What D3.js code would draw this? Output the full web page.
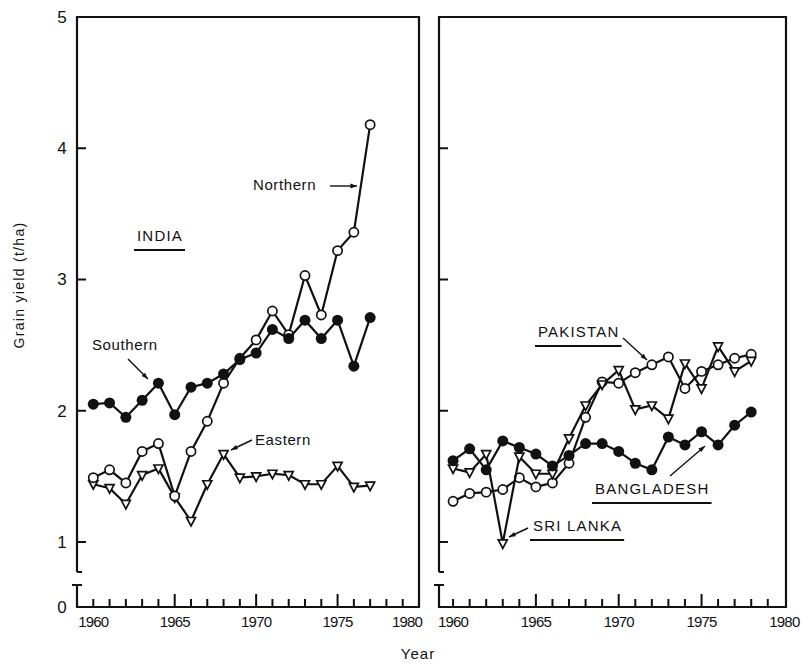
<!DOCTYPE html>
<html>
<head>
<meta charset="utf-8">
<script src="https://cdn.jsdelivr.net/npm/d3@7"></script>
<style>
  body { margin: 0; background: #fff; }
  svg text { font-family: "Liberation Sans", "DejaVu Sans", sans-serif; fill: #111; }
</style>
</head>
<body>
<svg id="chart" width="808" height="666"></svg>
<script>
// years and values
const indiaYears = [1960,1961,1962,1963,1964,1965,1966,1967,1968,1969,1970,1971,1972,1973,1974,1975,1976,1977];
const northern = [1.49,1.55,1.45,1.69,1.75,1.35,1.69,1.92,2.21,2.40,2.54,2.76,2.58,3.03,2.73,3.22,3.36,4.18];
const southern = [2.05,2.06,1.95,2.08,2.21,1.97,2.18,2.21,2.28,2.39,2.44,2.62,2.55,2.69,2.55,2.69,2.34,2.71];
const eastern  = [1.44,1.41,1.29,1.51,1.56,1.34,1.16,1.44,1.67,1.49,1.50,1.52,1.51,1.44,1.44,1.58,1.42,1.43];

const otherYears = [1960,1961,1962,1963,1964,1965,1966,1967,1968,1969,1970,1971,1972,1973,1974,1975,1976,1977,1978];
const bangladesh = [1.62,1.71,1.55,1.77,1.72,1.67,1.58,1.66,1.75,1.75,1.69,1.60,1.55,1.80,1.74,1.84,1.74,1.89,1.99];
const pakistan   = [1.31,1.37,1.38,1.40,1.49,1.42,1.45,1.60,1.95,2.22,2.21,2.29,2.35,2.41,2.17,2.30,2.35,2.40,2.43];
const sriLanka   = [1.56,1.53,1.67,0.99,1.65,1.52,1.52,1.79,2.04,2.20,2.31,2.01,2.04,1.94,2.36,2.17,2.49,2.30,2.38];

const yTicks = [1,2,3,4,5];
const xLabels = [1960,1965,1970,1975,1980];
const minorYears = d3.range(1960,1980);
const majorYears = [1965,1970,1975];

const svg = d3.select("#chart");
const topY = 17, base = 607;
const y = d3.scaleLinear().domain([1,5]).range([542,17]);

function panel(x0, x1, xDomain, showYLabels, lastLabelShift){
    const x = d3.scaleLinear().domain(xDomain).range([x0, x1]);
    const g = svg.append("g");

    // box: top, right, bottom, broken left axis
    g.append("path").attr("d",`M${x0},572 V${topY} H${x1} V${base} H${x0} V585`)
        .attr("stroke","#111").attr("stroke-width",2.2).attr("fill","none");
    g.append("path").attr("d",`M${x0},572 h5 M${x0-5},585 h10`)
        .attr("stroke","#111").attr("stroke-width",2.2);

    // y ticks (inward)
    const yt = yTicks.slice(0,4).map(d => `M${x0},${y(d)} h9`).join(" ");
    g.append("path").attr("class","yticks").attr("d",yt)
        .attr("stroke","#111").attr("stroke-width",2).attr("fill","none");

    if(showYLabels){
        g.selectAll("text.yl").data(yTicks).join("text").attr("class","yl")
            .attr("x",x0-15).attr("y",d=>y(d)).attr("dy","0.35em")
            .attr("text-anchor","middle").attr("font-size",17)
            .text(d=>d);
        g.append("text").attr("x",x0-15).attr("y",base).attr("dy","0.35em")
            .attr("text-anchor","middle").attr("font-size",17).text("0");
    }

    // x ticks pointing up from the baseline
    const xt = minorYears.map(d => `M${x(d)},${base} v${majorYears.includes(d) ? -13 : -8}`).join(" ");
    g.append("path").attr("class","xticks").attr("d",xt)
        .attr("stroke","#111").attr("stroke-width",2).attr("fill","none");

    g.selectAll("text.xl").data(xLabels).join("text").attr("class","xl")
        .attr("x",d=>x(d) - (d===1980 ? lastLabelShift : 0)).attr("y",627)
        .attr("text-anchor","middle").attr("font-size",15).attr("letter-spacing",-0.8)
        .text(d=>d);
    return x;
}

function series(x, years, values, marker){
    const pts = years.map((yr,i)=>[x(yr), y(values[i])]);
    svg.append("path").attr("d",d3.line()(pts))
        .attr("fill","none").attr("stroke","#111").attr("stroke-width",2.2);
    const m = svg.append("g");
    if(marker==="filled"){
        m.selectAll("circle").data(pts).join("circle")
            .attr("cx",d=>d[0]).attr("cy",d=>d[1]).attr("r",5.5).attr("fill","#111");
    }else if(marker==="open"){
        m.selectAll("circle").data(pts).join("circle")
            .attr("cx",d=>d[0]).attr("cy",d=>d[1]).attr("r",4.6)
            .attr("fill","#fff").attr("stroke","#111").attr("stroke-width",1.7);
    }else{
        m.selectAll("path").data(pts).join("path")
            .attr("d",d=>`M${d[0]-4.5},${d[1]-3.5} H${d[0]+4.5} L${d[0]},${d[1]+5} Z`)
            .attr("fill","#fff").attr("stroke","#111").attr("stroke-width",1.7);
    }
}

function label(txt, x, yy, underline){
    const t = svg.append("text").attr("x",x).attr("y",yy)
        .attr("font-size",15).attr("letter-spacing",underline ? 1.2 : 0.6).text(txt);
    if(underline){
        const w = t.node().getComputedTextLength();
        svg.append("line").attr("x1",x-3).attr("x2",x+w+2)
            .attr("y1",yy+9).attr("y2",yy+9).attr("stroke","#111").attr("stroke-width",2);
    }
}

function arrow(x1,y1,x2,y2){
    svg.append("line").attr("x1",x1).attr("y1",y1).attr("x2",x2).attr("y2",y2)
        .attr("stroke","#111").attr("stroke-width",1.4);
    const a = Math.atan2(y2-y1,x2-x1), L = 7, w = 0.35;
    svg.append("path")
        .attr("d",`M${x2},${y2} L${x2-L*Math.cos(a-w)},${y2-L*Math.sin(a-w)} L${x2-L*Math.cos(a+w)},${y2-L*Math.sin(a+w)} Z`)
        .attr("fill","#111");
}

const xL = panel(77, 419, [1959,1980], true, 12);
const xR = panel(439, 786, [1959.15,1980.1], false, 0);

series(xL, indiaYears, eastern, "tri");
series(xL, indiaYears, northern, "open");
series(xL, indiaYears, southern, "filled");

series(xR, otherYears, pakistan, "open");
series(xR, otherYears, sriLanka, "tri");
series(xR, otherYears, bangladesh, "filled");

// annotations
label("INDIA", 137, 241, true);
label("Northern", 253, 190, false);
arrow(330, 186, 357, 186);
label("Southern", 92, 350, false);
arrow(128, 359, 148, 379);
label("Eastern", 255, 445, false);
arrow(252, 440, 231, 450);
label("PAKISTAN", 538, 337, true);
arrow(623, 338, 647, 360);
label("BANGLADESH", 595, 494, true);
arrow(670, 476, 705, 446);
label("SRI LANKA", 533, 531, true);
arrow(528, 528, 509, 537);

// axis titles
svg.append("text").attr("transform","translate(24,285) rotate(-90)")
    .attr("text-anchor","middle").attr("font-size",14).attr("letter-spacing",1.3)
    .text("Grain yield (t/ha)");
svg.append("text").attr("x",418).attr("y",659).attr("text-anchor","middle")
    .attr("font-size",15).attr("letter-spacing",1).text("Year");
</script>
</body>
</html>
